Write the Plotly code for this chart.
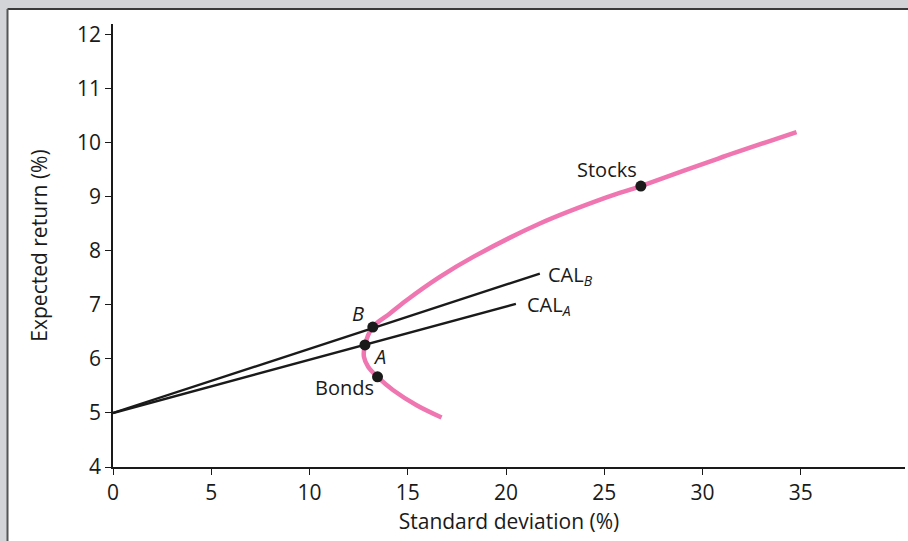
import plotly.graph_objects as go

# Minimum-variance frontier
frontier_sd = [16.72, 15.45, 14.26, 13.46, 12.99, 12.77, 12.82, 13.22, 14.09, 14.94,
               16.63, 18.33, 21.72, 25.11, 26.86, 30.80, 34.78]
frontier_ret = [4.915, 5.143, 5.420, 5.667, 5.852, 6.037, 6.254, 6.593, 6.841, 7.087,
                7.519, 7.889, 8.507, 8.99, 9.20, 9.71, 10.20]

# Capital allocation lines
cal_a_sd = [0, 20.5]
cal_a_ret = [5.0, 7.02]
cal_b_sd = [0, 21.72]
cal_b_ret = [5.0, 7.58]

# Named portfolios
point_names = ["Stocks", "B", "A", "Bonds"]
point_sd = [26.86, 13.22, 12.82, 13.46]
point_ret = [9.20, 6.59, 6.26, 5.67]

x_ticks = [0, 5, 10, 15, 20, 25, 30, 35]
y_ticks = [4, 5, 6, 7, 8, 9, 10, 11, 12]

FONT = "Open Sans"
PINK = "#ef76b1"
INK = "#1a1a1a"
FS = 20

fig = go.Figure()
fig.add_trace(go.Scatter(x=frontier_sd, y=frontier_ret, mode="lines",
                         line=dict(color=PINK, width=4.5, shape="spline", smoothing=0.9),
                         hoverinfo="skip"))
fig.add_trace(go.Scatter(x=cal_b_sd, y=cal_b_ret, mode="lines",
                         line=dict(color=INK, width=2.4), hoverinfo="skip"))
fig.add_trace(go.Scatter(x=cal_a_sd, y=cal_a_ret, mode="lines",
                         line=dict(color=INK, width=2.4), hoverinfo="skip"))
fig.add_trace(go.Scatter(x=point_sd, y=point_ret, mode="markers",
                         marker=dict(color=INK, size=11), text=point_names,
                         hoverinfo="text"))

# Labels
ann = [
    dict(x=point_sd[0], y=point_ret[0], text="Stocks", xanchor="right", yanchor="bottom", xshift=-2, yshift=1),
    dict(x=point_sd[1], y=point_ret[1], text="<i>B</i>", xanchor="right", yanchor="bottom", xshift=-7, yshift=-2),
    dict(x=point_sd[2], y=point_ret[2], text="<i>A</i>", xanchor="left", yanchor="top", xshift=6, yshift=4),
    dict(x=point_sd[3], y=point_ret[3], text="Bonds", xanchor="right", yanchor="top", xshift=-2, yshift=5),
    dict(x=cal_b_sd[1], y=cal_b_ret[1], text="CAL<sub><i>B</i></sub>", xanchor="left", yanchor="middle", xshift=6, yshift=-2),
    dict(x=cal_a_sd[1], y=cal_a_ret[1], text="CAL<sub><i>A</i></sub>", xanchor="left", yanchor="middle", xshift=9, yshift=-2),
]
for a in ann:
    fig.add_annotation(showarrow=False, font=dict(family=FONT, size=FS, color=INK), **a)

# Background panel: gray surround with dark edge on top and left
fig.add_shape(type="rect", xref="paper", yref="paper", layer="below",
              x0=(8 - 113) / 792, x1=1.2, y0=-0.3, y1=(467 - 9.5) / 443,
              fillcolor="white", line=dict(width=0))
fig.add_shape(type="line", xref="paper", yref="paper",
              x0=(7.5 - 113) / 792, x1=1.2, y0=(467 - 9) / 443, y1=(467 - 9) / 443,
              line=dict(color="#3a3a3a", width=2))
fig.add_shape(type="line", xref="paper", yref="paper",
              x0=(7.5 - 113) / 792, x1=(7.5 - 113) / 792, y0=-0.3, y1=(467 - 9) / 443,
              line=dict(color="#555555", width=2))

fig.update_layout(
    width=908, height=541,
    margin=dict(l=113, r=3, t=24, b=74),
    paper_bgcolor="#d3d4d8", plot_bgcolor="white",
    showlegend=False,
    font=dict(family=FONT, size=FS, color=INK),
    xaxis=dict(range=[0, 40.3], tickvals=x_ticks, ticks="outside", ticklen=6,
               tickcolor=INK, showline=True, linecolor=INK, linewidth=1.5,
               showgrid=False, zeroline=False, tickfont=dict(size=21),
               title=dict(text="Standard deviation (%)", font=dict(size=21), standoff=9)),
    yaxis=dict(range=[4, 12.2], tickvals=y_ticks, ticks="outside", ticklen=6,
               tickcolor=INK, showline=True, linecolor=INK, linewidth=1.5,
               showgrid=False, zeroline=False, tickfont=dict(size=21),
               title=dict(text="Expected return (%)", font=dict(size=21), standoff=24)),
)

fig.write_html("out.html", config={"displayModeBar": False},
               post_script="document.body.style.margin='0';document.body.style.background='#d3d4d8';")
